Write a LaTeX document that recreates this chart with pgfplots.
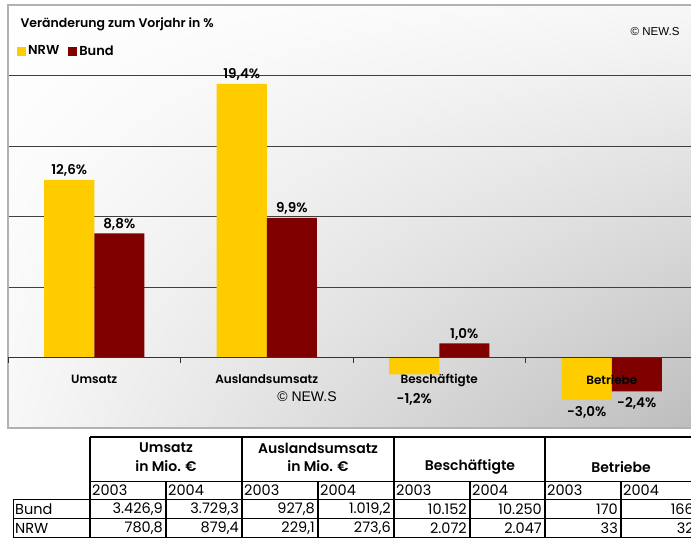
\documentclass[border=0pt]{standalone}
\usepackage{fontspec}
\usepackage{pgfplots}
\pgfplotsset{compat=1.18}
\usetikzlibrary{shadings}
\setmainfont{Poppins}
\newfontfamily\futb{Poppins SemiBold}
\newfontfamily\futl{Poppins}
\newfontfamily\arial{Liberation Sans}
\definecolor{nrw}{HTML}{FFCC00}
\definecolor{bund}{HTML}{800000}
\begin{document}
\begin{tikzpicture}[x=1pt,y=1pt]
\useasboundingbox (0,0) rectangle (691,539);
\clip (0,0) rectangle (691,539);
\begin{axis}[
  at={(8pt,111pt)}, anchor=south west, scale only axis,
  width=690pt, height=423pt,
  xmin=-0.5, xmax=3.5, ymin=-5, ymax=25,
  axis background/.style={upper left=white, upper right=black!3, lower left=black!3, lower right=black!26},
  axis line style={draw=none},
  ytick={5,10,15,20}, yticklabels={}, ymajorgrids,
  grid style={black!75, line width=0.9pt},
  major tick length=0pt,
  xtick=\empty,
  ybar=0pt, bar width=0.29,
  /pgf/number format/assume math mode=true,
  visualization depends on={y \as \rawy},
  nodes near coords={\pgfmathprintnumber[fixed,fixed zerofill,precision=1,use comma,assume math mode=true]{\pgfplotspointmeta}\%},
  nodes near coords style={font=\futb\fontsize{13.5}{14}\selectfont, text=black,
     yshift={(\rawy<0)*(-3) + and(\rawy<0,\rawy>-2)*(-12)}},
  legend style={at={(axis description cs:0.013,0.891)}, anchor=west, draw=none, fill=none, inner sep=0pt,
    legend columns=2, font=\futb\fontsize{13}{14}\selectfont,
    /tikz/every even column/.append style={column sep=7pt}},
  legend cell align=left,
  clip=false,
]
\addplot[fill=nrw, draw=none, bar shift=-0.145,
  legend image code/.code={\fill[nrw] (0pt,-4.5pt) rectangle (9pt,4.5pt);}]
  coordinates {(0,12.6) (1,19.4) (2,-1.2) (3,-3.0)};
\addplot[fill=bund, draw=none, bar shift=0.145,
  legend image code/.code={\fill[bund] (0pt,-4.5pt) rectangle (9pt,4.5pt);}]
  coordinates {(0,8.8) (1,9.9) (2,1.0) (3,-2.4)};
\legend{NRW, Bund}
\draw[black!30, line width=1.2pt] (rel axis cs:1.02,1) -- (rel axis cs:0,1) -- (rel axis cs:0,0) -- (rel axis cs:1.02,0);
\draw[black!80, line width=0.9pt] (axis cs:-0.5,0) -- (axis cs:3.5,0);
\draw[black!80, line width=0.9pt] (axis cs:-0.5,0) -- ([yshift=-5pt]axis cs:-0.5,0);
\draw[black!80, line width=0.9pt] (axis cs:0.5,0) -- ([yshift=-5pt]axis cs:0.5,0);
\draw[black!80, line width=0.9pt] (axis cs:1.5,0) -- ([yshift=-5pt]axis cs:1.5,0);
\draw[black!80, line width=0.9pt] (axis cs:2.5,0) -- ([yshift=-5pt]axis cs:2.5,0);
\node[font=\futb\fontsize{12}{13}\selectfont] at (axis cs:0,0) [yshift=-22pt] {Umsatz};
\node[font=\futb\fontsize{12}{13}\selectfont] at (axis cs:1,0) [yshift=-22pt] {Auslandsumsatz};
\node[font=\futb\fontsize{12}{13}\selectfont] at (axis cs:2,0) [yshift=-23pt] {Beschäftigte};
\node[font=\futb\fontsize{12}{13}\selectfont] at (axis cs:3,0) [yshift=-22pt] {Betriebe};
\end{axis}
\node[anchor=west, font=\futb\fontsize{12.5}{13}\selectfont] at (17,515) {Veränderung zum Vorjahr in \%};
\node[anchor=east, font=\arial\fontsize{11.5}{12}\selectfont] at (683,507) {© NEW.S};
\node[font=\arial\fontsize{14}{15}\selectfont] at (307,142) {© NEW.S};
\begin{scope}[y=-1pt, yshift=539pt]
  \draw[line width=1.6pt] (90,437) -- (700,437);
  \draw[line width=1pt] (90,481) -- (700,481);
  \draw[line width=1pt] (13,499) -- (700,499);
  \draw[line width=1pt] (13,518) -- (700,518);
  \draw[line width=1pt] (13,537) -- (700,537);
  \foreach \xx in {90,242,394,545} \draw[line width=1.6pt] (\xx,437) -- (\xx,537.5);
  \foreach \xx in {166,318,470,621} \draw[line width=1.4pt] (\xx,481) -- (\xx,537.5);
  \draw[line width=1pt] (13,499) -- (13,537.5);
  \begin{scope}[every node/.style={font=\futb\fontsize{14}{15}\selectfont}]
    \node at (166,448) {Umsatz};
    \node at (166,466) {in Mio. €};
    \node at (318,448) {Auslandsumsatz};
    \node at (318,466) {in Mio. €};
    \node at (470,467) {Beschäftigte};
    \node at (621,467) {Betriebe};
  \end{scope}
  \begin{scope}[every node/.style={font=\futl\fontsize{14.5}{15}\selectfont, inner sep=0pt}]
    \foreach \xx in {90,242,394,545} {
      \node[anchor=west] at (\xx+2,490) {2003};
      \node[anchor=west] at (\xx+78,490) {2004};
    }
    \node[anchor=west] at (15,509) {Bund};
    \node[anchor=west] at (15,528) {NRW};
    \node[anchor=east] at (163,509) {3.426,9};
    \node[anchor=east] at (239,509) {3.729,3};
    \node[anchor=east] at (315,509) {927,8};
    \node[anchor=east] at (391,509) {1.019,2};
    \node[anchor=east] at (467,509) {10.152};
    \node[anchor=east] at (542,509) {10.250};
    \node[anchor=east] at (618,509) {170};
    \node[anchor=east] at (694,509) {166};
    \node[anchor=east] at (163,528) {780,8};
    \node[anchor=east] at (239,528) {879,4};
    \node[anchor=east] at (315,528) {229,1};
    \node[anchor=east] at (391,528) {273,6};
    \node[anchor=east] at (467,528) {2.072};
    \node[anchor=east] at (542,528) {2.047};
    \node[anchor=east] at (618,528) {33};
    \node[anchor=east] at (694,528) {32};
  \end{scope}
\end{scope}
\end{tikzpicture}
\end{document}
